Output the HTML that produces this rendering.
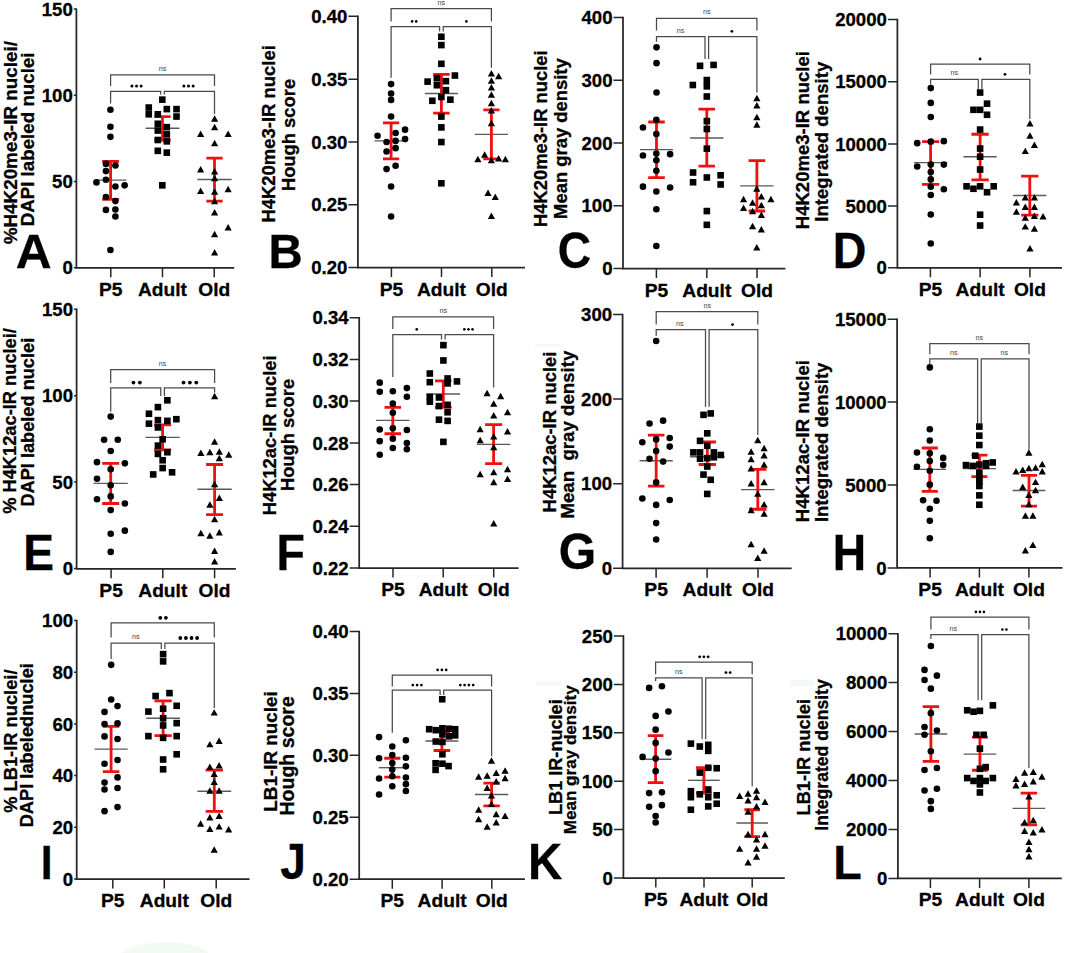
<!DOCTYPE html><html><head><meta charset="utf-8"><style>html,body{margin:0;padding:0;background:#fff;}svg{display:block}.b{font-family:"Liberation Sans",sans-serif;font-weight:bold;fill:#000;stroke:#000;stroke-width:0.3px}.r{font-family:"Liberation Sans",sans-serif;}</style></head><body>
<svg width="1065" height="953" viewBox="0 0 1065 953">
<rect width="1065" height="953" fill="#fff"/>
<g fill="#f3faf3"><rect x="536" y="681" width="26" height="5"/><rect x="790" y="680" width="24" height="6"/><rect x="535" y="344" width="25" height="3"/><ellipse cx="165" cy="957" rx="45" ry="15"/></g>
<path d="M76.4 8.4V267.8H234.2" fill="none" stroke="#262626" stroke-width="1.75"/>
<path d="M73.8 9.1H76.4M73.8 95.3H76.4M73.8 181.5H76.4M73.8 267.7H76.4M110.8 267.8V277.3M162.5 267.8V277.3M214.2 267.8V277.3" fill="none" stroke="#262626" stroke-width="1.5"/>
<text x="72.8" y="15.7" font-size="18.6" class="b" text-anchor="end">150</text>
<text x="72.8" y="101.9" font-size="18.6" class="b" text-anchor="end">100</text>
<text x="72.8" y="188.1" font-size="18.6" class="b" text-anchor="end">50</text>
<text x="72.8" y="274.3" font-size="18.6" class="b" text-anchor="end">0</text>
<text x="110.8" y="295.8" font-size="19.2" class="b" text-anchor="middle">P5</text>
<text x="162.5" y="295.8" font-size="19.2" class="b" text-anchor="middle">Adult</text>
<text x="214.2" y="295.8" font-size="19.2" class="b" text-anchor="middle">Old</text>
<path d="M94.82 180.14H126.38" stroke="#5a5a5a" stroke-width="1.4"/>
<path d="M145.59 128.28H179.41" stroke="#5a5a5a" stroke-width="1.4"/>
<path d="M197.36 179.46H231.64" stroke="#5a5a5a" stroke-width="1.4"/>
<path d="M110.6 161.43V199.31M102.14 161.43H119.06M102.14 199.31H119.06" stroke="#f01010" stroke-width="2.8" fill="none"/>
<path d="M162.5 116.56V140.23M154.38 116.56H170.62M154.38 140.23H170.62" stroke="#f01010" stroke-width="2.8" fill="none"/>
<path d="M214.5 158.04V201.11M206.38 158.04H222.62M206.38 201.11H222.62" stroke="#f01010" stroke-width="2.8" fill="none"/>
<circle cx="110.44" cy="109.79" r="3.3"/>
<circle cx="110.44" cy="126.7" r="3.3"/>
<circle cx="110.44" cy="136.85" r="3.3"/>
<circle cx="105.93" cy="163.91" r="3.3"/>
<circle cx="115.4" cy="165.48" r="3.3"/>
<circle cx="105.93" cy="171.12" r="3.3"/>
<circle cx="96.46" cy="182.4" r="3.3"/>
<circle cx="105.93" cy="179.69" r="3.3"/>
<circle cx="115.4" cy="186.45" r="3.3"/>
<circle cx="124.64" cy="185.33" r="3.3"/>
<circle cx="105.93" cy="197.05" r="3.3"/>
<circle cx="115.4" cy="201.11" r="3.3"/>
<circle cx="105.93" cy="209.9" r="3.3"/>
<circle cx="115.4" cy="209.45" r="3.3"/>
<circle cx="115.4" cy="216.44" r="3.3"/>
<circle cx="110.44" cy="250.04" r="3.3"/>
<rect x="159" y="96.34" width="6.6" height="6.6"/>
<rect x="145.47" y="104.24" width="6.6" height="6.6"/>
<rect x="163.51" y="105.81" width="6.6" height="6.6"/>
<rect x="173.21" y="105.81" width="6.6" height="6.6"/>
<rect x="145.47" y="111" width="6.6" height="6.6"/>
<rect x="154.49" y="111" width="6.6" height="6.6"/>
<rect x="173.21" y="113.26" width="6.6" height="6.6"/>
<rect x="154.49" y="120.47" width="6.6" height="6.6"/>
<rect x="163.51" y="123.85" width="6.6" height="6.6"/>
<rect x="154.49" y="127.24" width="6.6" height="6.6"/>
<rect x="163.51" y="131.07" width="6.6" height="6.6"/>
<rect x="154.49" y="136.71" width="6.6" height="6.6"/>
<rect x="163.51" y="138.06" width="6.6" height="6.6"/>
<rect x="154.49" y="147.53" width="6.6" height="6.6"/>
<rect x="163.51" y="149.33" width="6.6" height="6.6"/>
<rect x="159" y="182.03" width="6.6" height="6.6"/>
<path d="M214.61 115.37L218.21 121.85H211.01Z"/>
<path d="M214.61 123.72L218.21 130.2H211.01Z"/>
<path d="M200.63 130.48L204.23 136.96H197.03Z"/>
<path d="M228.14 130.48L231.74 136.96H224.54Z"/>
<path d="M214.61 139.73L218.21 146.21H211.01Z"/>
<path d="M200.63 166.11L204.23 172.59H197.03Z"/>
<path d="M214.61 167.91L218.21 174.39H211.01Z"/>
<path d="M214.61 174.67L218.21 181.15H211.01Z"/>
<path d="M200.63 187.53L204.23 194.01H197.03Z"/>
<path d="M214.61 188.2L218.21 194.68H211.01Z"/>
<path d="M228.14 185.72L231.74 192.2H224.54Z"/>
<path d="M214.61 197.67L218.21 204.15H211.01Z"/>
<path d="M214.61 208.95L218.21 215.43H211.01Z"/>
<path d="M228.14 224.05L231.74 230.53H224.54Z"/>
<path d="M214.61 230.82L218.21 237.3H211.01Z"/>
<path d="M214.61 249.08L218.21 255.56H211.01Z"/>
<path d="M110.6 86.1V74.8H214.5V86.1M110.6 103.48V91.3H160.7V94.6M164.3 94.6V91.3H214.5V114.08" fill="none" stroke="#4a4a4a" stroke-width="1.25"/>
<text x="162.5" y="70.8" font-size="7.2" class="r" text-anchor="middle" fill="#444">ns</text>
<circle cx="131.95" cy="86.1" r="1.5"/>
<circle cx="136.55" cy="86.1" r="1.5"/>
<circle cx="141.15" cy="86.1" r="1.5"/>
<circle cx="183.9" cy="86.1" r="1.5"/>
<circle cx="188.5" cy="86.1" r="1.5"/>
<circle cx="193.1" cy="86.1" r="1.5"/>
<text transform="translate(16.76,244.35) rotate(-90)" font-size="18.87" class="b">%H4K20me3-IR nuclei/</text>
<text transform="translate(33.67,226.34) rotate(-90)" font-size="18.74" class="b">DAPI labeled nuclei</text>
<text transform="translate(15.66,268.25) scale(1.027,1)" font-size="48.4" class="b">A</text>
<path d="M357.9 15.6V267.5H525" fill="none" stroke="#262626" stroke-width="1.75"/>
<path d="M348.4 16.3H357.9M348.4 79.2H357.9M348.4 142H357.9M348.4 204.8H357.9M348.4 267.5H357.9M391.4 267.5V277M441.5 267.5V277M491.8 267.5V277" fill="none" stroke="#262626" stroke-width="1.5"/>
<text x="347.4" y="22.9" font-size="18.6" class="b" text-anchor="end">0.40</text>
<text x="347.4" y="85.8" font-size="18.6" class="b" text-anchor="end">0.35</text>
<text x="347.4" y="148.6" font-size="18.6" class="b" text-anchor="end">0.30</text>
<text x="347.4" y="211.4" font-size="18.6" class="b" text-anchor="end">0.25</text>
<text x="347.4" y="274.1" font-size="18.6" class="b" text-anchor="end">0.20</text>
<text x="391.4" y="295.5" font-size="19.2" class="b" text-anchor="middle">P5</text>
<text x="441.5" y="295.5" font-size="19.2" class="b" text-anchor="middle">Adult</text>
<text x="491.8" y="295.5" font-size="19.2" class="b" text-anchor="middle">Old</text>
<path d="M374.53 140.92H407.67" stroke="#5a5a5a" stroke-width="1.4"/>
<path d="M424.83 93.57H457.97" stroke="#5a5a5a" stroke-width="1.4"/>
<path d="M474.83 134.39H507.97" stroke="#5a5a5a" stroke-width="1.4"/>
<path d="M391.1 122.89V158.96M382.98 122.89H399.22M382.98 158.96H399.22" stroke="#f01010" stroke-width="2.8" fill="none"/>
<path d="M441.4 74.41V113.19M433.17 74.41H449.63M433.17 113.19H449.63" stroke="#f01010" stroke-width="2.8" fill="none"/>
<path d="M491.4 109.81V158.96M483.28 109.81H499.52M483.28 158.96H499.52" stroke="#f01010" stroke-width="2.8" fill="none"/>
<circle cx="391.08" cy="84.1" r="3.3"/>
<circle cx="391.08" cy="93.57" r="3.3"/>
<circle cx="391.08" cy="99.89" r="3.3"/>
<circle cx="391.08" cy="116.57" r="3.3"/>
<circle cx="405.06" cy="129.65" r="3.3"/>
<circle cx="377.55" cy="135.74" r="3.3"/>
<circle cx="395.59" cy="133.03" r="3.3"/>
<circle cx="405.06" cy="139.12" r="3.3"/>
<circle cx="386.57" cy="142.05" r="3.3"/>
<circle cx="395.59" cy="140.92" r="3.3"/>
<circle cx="386.57" cy="151.52" r="3.3"/>
<circle cx="395.59" cy="148.14" r="3.3"/>
<circle cx="386.57" cy="169.11" r="3.3"/>
<circle cx="395.59" cy="165.73" r="3.3"/>
<circle cx="391.08" cy="186.47" r="3.3"/>
<circle cx="391.08" cy="216.46" r="3.3"/>
<rect x="438.06" y="33.45" width="6.6" height="6.6"/>
<rect x="438.06" y="41.8" width="6.6" height="6.6"/>
<rect x="438.06" y="60.51" width="6.6" height="6.6"/>
<rect x="451.59" y="72.24" width="6.6" height="6.6"/>
<rect x="424.3" y="78.32" width="6.6" height="6.6"/>
<rect x="433.55" y="74.94" width="6.6" height="6.6"/>
<rect x="442.57" y="77.87" width="6.6" height="6.6"/>
<rect x="433.55" y="81.93" width="6.6" height="6.6"/>
<rect x="442.57" y="86.89" width="6.6" height="6.6"/>
<rect x="438.06" y="93.66" width="6.6" height="6.6"/>
<rect x="429.04" y="97.49" width="6.6" height="6.6"/>
<rect x="447.08" y="96.36" width="6.6" height="6.6"/>
<rect x="438.06" y="113.27" width="6.6" height="6.6"/>
<rect x="438.06" y="124.1" width="6.6" height="6.6"/>
<rect x="438.06" y="138.75" width="6.6" height="6.6"/>
<rect x="438.06" y="180.01" width="6.6" height="6.6"/>
<path d="M491.41 70.07L495.01 76.55H487.81Z"/>
<path d="M498.63 72.77L502.23 79.25H495.03Z"/>
<path d="M491.41 77.28L495.01 83.76H487.81Z"/>
<path d="M491.41 84.05L495.01 90.53H487.81Z"/>
<path d="M491.41 91.26L495.01 97.74H487.81Z"/>
<path d="M491.41 99.83L495.01 106.31H487.81Z"/>
<path d="M491.41 107.05L495.01 113.53H487.81Z"/>
<path d="M491.41 119.67L495.01 126.15H487.81Z"/>
<path d="M484.65 151.24L488.25 157.72H481.05Z"/>
<path d="M477.89 155.75L481.49 162.23H474.29Z"/>
<path d="M491.41 156.88L495.01 163.36H487.81Z"/>
<path d="M498.63 155.07L502.23 161.55H495.03Z"/>
<path d="M505.39 155.75L508.99 162.23H501.79Z"/>
<path d="M488.03 189.57L491.63 196.05H484.43Z"/>
<path d="M495.25 193.41L498.85 199.89H491.65Z"/>
<path d="M491.41 212.57L495.01 219.05H487.81Z"/>
<path d="M391.1 21.42V8.57H491.4V21.42M391.1 77.79V26.61H439.6V31.57M443.2 31.57V26.61H491.4V67.64" fill="none" stroke="#4a4a4a" stroke-width="1.25"/>
<text x="441.4" y="4.57" font-size="7.2" class="r" text-anchor="middle" fill="#444">ns</text>
<circle cx="412.1" cy="21.41" r="1.3"/>
<circle cx="416.2" cy="21.41" r="1.3"/>
<circle cx="466.4" cy="21.41" r="1.3"/>
<text transform="translate(275.47,222.52) rotate(-90)" font-size="18.46" class="b">H4K20me3-IR nuclei</text>
<text transform="translate(295.11,191.11) rotate(-90)" font-size="18.38" class="b">Hough score</text>
<text transform="translate(268.62,267.85) scale(0.967,1)" font-size="48.98" class="b">B</text>
<path d="M623 16.7V268.6H785.4" fill="none" stroke="#262626" stroke-width="1.75"/>
<path d="M613.5 17.4H623M613.5 80.2H623M613.5 143H623M613.5 205.8H623M613.5 268.6H623M656.4 268.6V278.1M706.8 268.6V278.1M757 268.6V278.1" fill="none" stroke="#262626" stroke-width="1.5"/>
<text x="612.5" y="24" font-size="18.6" class="b" text-anchor="end">400</text>
<text x="612.5" y="86.8" font-size="18.6" class="b" text-anchor="end">300</text>
<text x="612.5" y="149.6" font-size="18.6" class="b" text-anchor="end">200</text>
<text x="612.5" y="212.4" font-size="18.6" class="b" text-anchor="end">100</text>
<text x="612.5" y="275.2" font-size="18.6" class="b" text-anchor="end">0</text>
<text x="656.4" y="296.6" font-size="19.2" class="b" text-anchor="middle">P5</text>
<text x="706.8" y="296.6" font-size="19.2" class="b" text-anchor="middle">Adult</text>
<text x="757" y="296.6" font-size="19.2" class="b" text-anchor="middle">Old</text>
<path d="M640 149.6H673" stroke="#5a5a5a" stroke-width="1.4"/>
<path d="M690.1 138H723.5" stroke="#5a5a5a" stroke-width="1.4"/>
<path d="M740.2 185.9H773.6" stroke="#5a5a5a" stroke-width="1.4"/>
<path d="M656.5 122V177.7M648.2 122H664.8M648.2 177.7H664.8" stroke="#f01010" stroke-width="2.8" fill="none"/>
<path d="M706.8 109.2V166.1M698.5 109.2H715.1M698.5 166.1H715.1" stroke="#f01010" stroke-width="2.8" fill="none"/>
<path d="M756.9 160.6V211M748.6 160.6H765.2M748.6 211H765.2" stroke="#f01010" stroke-width="2.8" fill="none"/>
<circle cx="656.53" cy="47.35" r="3.3"/>
<circle cx="656.53" cy="63.13" r="3.3"/>
<circle cx="656.53" cy="92.45" r="3.3"/>
<circle cx="656.35" cy="119.83" r="3.3"/>
<circle cx="642.95" cy="127.54" r="3.3"/>
<circle cx="656.35" cy="133.96" r="3.3"/>
<circle cx="642.95" cy="155.44" r="3.3"/>
<circle cx="656.35" cy="153.61" r="3.3"/>
<circle cx="670.12" cy="154.16" r="3.3"/>
<circle cx="656.35" cy="160.22" r="3.3"/>
<circle cx="656.35" cy="170.68" r="3.3"/>
<circle cx="642.95" cy="186.65" r="3.3"/>
<circle cx="670.12" cy="187.57" r="3.3"/>
<circle cx="656.35" cy="191.43" r="3.3"/>
<circle cx="656.35" cy="209.23" r="3.3"/>
<circle cx="656.35" cy="245.95" r="3.3"/>
<rect x="696.75" y="62.54" width="6.6" height="6.6"/>
<rect x="710.27" y="61.64" width="6.6" height="6.6"/>
<rect x="703.51" y="76.75" width="6.6" height="6.6"/>
<rect x="689.53" y="81.71" width="6.6" height="6.6"/>
<rect x="703.51" y="83.06" width="6.6" height="6.6"/>
<rect x="703.51" y="93.21" width="6.6" height="6.6"/>
<rect x="703.54" y="117.81" width="6.6" height="6.6"/>
<rect x="703.54" y="125.71" width="6.6" height="6.6"/>
<rect x="703.54" y="145.35" width="6.6" height="6.6"/>
<rect x="689.77" y="169.22" width="6.6" height="6.6"/>
<rect x="703.54" y="174.17" width="6.6" height="6.6"/>
<rect x="717.31" y="171.97" width="6.6" height="6.6"/>
<rect x="689.77" y="178.95" width="6.6" height="6.6"/>
<rect x="717.31" y="181.15" width="6.6" height="6.6"/>
<rect x="703.54" y="207.77" width="6.6" height="6.6"/>
<rect x="703.54" y="221.54" width="6.6" height="6.6"/>
<path d="M756.87 94.65L760.47 101.13H753.27Z"/>
<path d="M756.87 102.09L760.47 108.57H753.27Z"/>
<path d="M756.87 113.81L760.47 120.29H753.27Z"/>
<path d="M756.87 121.25L760.47 127.73H753.27Z"/>
<path d="M756.77 185.15L760.37 191.63H753.17Z"/>
<path d="M743.55 195.8L747.15 202.28H739.95Z"/>
<path d="M761.36 193.05L764.96 199.53H757.76Z"/>
<path d="M770.91 195.8L774.51 202.28H767.31Z"/>
<path d="M752.55 199.29L756.15 205.77H748.95Z"/>
<path d="M761.36 201.67L764.96 208.15H757.76Z"/>
<path d="M743.55 204.43L747.15 210.91H739.95Z"/>
<path d="M752.55 207.73L756.15 214.21H748.95Z"/>
<path d="M761.36 211.4L764.96 217.88H757.76Z"/>
<path d="M752.55 222.79L756.15 229.27H748.95Z"/>
<path d="M761.36 226.09L764.96 232.57H757.76Z"/>
<path d="M756.77 243.9L760.37 250.38H753.17Z"/>
<path d="M656.5 30.44V18.49H756.9V30.44M656.5 41.71V36.53H705V59.08M708.6 59.08V36.53H756.9V92.45" fill="none" stroke="#4a4a4a" stroke-width="1.25"/>
<text x="706.8" y="14.49" font-size="7.2" class="r" text-anchor="middle" fill="#444">ns</text>
<text x="680.45" y="32.53" font-size="7.2" class="r" text-anchor="middle" fill="#444">ns</text>
<circle cx="731.85" cy="31.33" r="1.4"/>
<text transform="translate(547.3,226.91) rotate(-90)" font-size="18.37" class="b">H4K20me3-IR nuclei</text>
<text transform="translate(566.73,218.91) rotate(-90)" font-size="18.41" class="b">Mean gray density</text>
<text transform="translate(557.71,267.95) scale(0.913,1)" font-size="50.57" class="b">C</text>
<path d="M897.4 18.8V267.8H1062" fill="none" stroke="#262626" stroke-width="1.75"/>
<path d="M887.9 19.5H897.4M887.9 81.8H897.4M887.9 144H897.4M887.9 206H897.4M887.9 267.8H897.4M930.4 267.8V277.3M980.1 267.8V277.3M1029.9 267.8V277.3" fill="none" stroke="#262626" stroke-width="1.5"/>
<text x="886.9" y="26.1" font-size="18.6" class="b" text-anchor="end">20000</text>
<text x="886.9" y="88.4" font-size="18.6" class="b" text-anchor="end">15000</text>
<text x="886.9" y="150.6" font-size="18.6" class="b" text-anchor="end">10000</text>
<text x="886.9" y="212.6" font-size="18.6" class="b" text-anchor="end">5000</text>
<text x="886.9" y="274.4" font-size="18.6" class="b" text-anchor="end">0</text>
<text x="930.4" y="295.8" font-size="19.2" class="b" text-anchor="middle">P5</text>
<text x="980.1" y="295.8" font-size="19.2" class="b" text-anchor="middle">Adult</text>
<text x="1029.9" y="295.8" font-size="19.2" class="b" text-anchor="middle">Old</text>
<path d="M913.95 162.63H947.25" stroke="#5a5a5a" stroke-width="1.4"/>
<path d="M963.45 156.7H996.75" stroke="#5a5a5a" stroke-width="1.4"/>
<path d="M1013.15 195.44H1046.45" stroke="#5a5a5a" stroke-width="1.4"/>
<path d="M930.6 141.65V184.34M921.96 141.65H939.24M921.96 184.34H939.24" stroke="#f01010" stroke-width="2.8" fill="none"/>
<path d="M980.1 134.25V179.9M971.46 134.25H988.74M971.46 179.9H988.74" stroke="#f01010" stroke-width="2.8" fill="none"/>
<path d="M1029.8 176.2V215.18M1021.16 176.2H1038.44M1021.16 215.18H1038.44" stroke="#f01010" stroke-width="2.8" fill="none"/>
<circle cx="930.78" cy="88.11" r="3.3"/>
<circle cx="930.78" cy="102.92" r="3.3"/>
<circle cx="930.78" cy="116.98" r="3.3"/>
<circle cx="917.21" cy="143.13" r="3.3"/>
<circle cx="930.78" cy="141.65" r="3.3"/>
<circle cx="943.85" cy="141.16" r="3.3"/>
<circle cx="917.21" cy="166.57" r="3.3"/>
<circle cx="930.78" cy="164.6" r="3.3"/>
<circle cx="943.85" cy="164.6" r="3.3"/>
<circle cx="930.78" cy="172" r="3.3"/>
<circle cx="930.78" cy="179.4" r="3.3"/>
<circle cx="930.78" cy="186.8" r="3.3"/>
<circle cx="943.85" cy="189.27" r="3.3"/>
<circle cx="930.78" cy="194.95" r="3.3"/>
<circle cx="930.78" cy="214.44" r="3.3"/>
<circle cx="930.78" cy="243.55" r="3.3"/>
<rect x="976.82" y="89.25" width="6.6" height="6.6"/>
<rect x="983.73" y="100.36" width="6.6" height="6.6"/>
<rect x="970.16" y="106.52" width="6.6" height="6.6"/>
<rect x="976.82" y="106.52" width="6.6" height="6.6"/>
<rect x="983.73" y="111.46" width="6.6" height="6.6"/>
<rect x="976.82" y="126.26" width="6.6" height="6.6"/>
<rect x="976.82" y="145.26" width="6.6" height="6.6"/>
<rect x="976.82" y="153.4" width="6.6" height="6.6"/>
<rect x="976.82" y="166.23" width="6.6" height="6.6"/>
<rect x="963.25" y="183.01" width="6.6" height="6.6"/>
<rect x="970.16" y="185.48" width="6.6" height="6.6"/>
<rect x="976.82" y="183.01" width="6.6" height="6.6"/>
<rect x="983.73" y="188.93" width="6.6" height="6.6"/>
<rect x="990.39" y="183.01" width="6.6" height="6.6"/>
<rect x="976.82" y="211.39" width="6.6" height="6.6"/>
<rect x="976.82" y="222.24" width="6.6" height="6.6"/>
<path d="M1029.96 120L1033.56 126.48H1026.36Z"/>
<path d="M1029.96 132.34L1033.56 138.82H1026.36Z"/>
<path d="M1034.4 141.47L1038 147.95H1030.8Z"/>
<path d="M1025.27 147.63L1028.87 154.11H1021.67Z"/>
<path d="M1016.39 198.95L1019.99 205.43H1012.79Z"/>
<path d="M1025.27 194.02L1028.87 200.5H1021.67Z"/>
<path d="M1034.4 194.02L1038 200.5H1030.8Z"/>
<path d="M1025.27 203.4L1028.87 209.88H1021.67Z"/>
<path d="M1034.4 203.4L1038 209.88H1030.8Z"/>
<path d="M1016.39 208.33L1019.99 214.81H1012.79Z"/>
<path d="M1025.27 214.25L1028.87 220.73H1021.67Z"/>
<path d="M1034.4 212.52L1038 219H1030.8Z"/>
<path d="M1043.04 213.02L1046.64 219.5H1039.44Z"/>
<path d="M1025.27 223.13L1028.87 229.61H1021.67Z"/>
<path d="M1034.4 225.35L1038 231.83H1030.8Z"/>
<path d="M1029.96 245.09L1033.56 251.57H1026.36Z"/>
<path d="M930.6 74.54V64.18H1029.8V74.54M930.6 84.41V79.48H978.3V89.35M981.9 89.35V79.48H1029.8V118.95" fill="none" stroke="#4a4a4a" stroke-width="1.25"/>
<circle cx="980.1" cy="58.98" r="1.4"/>
<text x="954.25" y="75.48" font-size="7.2" class="r" text-anchor="middle" fill="#444">ns</text>
<circle cx="1004.95" cy="74.28" r="1.4"/>
<text transform="translate(809.43,229.22) rotate(-90)" font-size="18.55" class="b">H4K20me3-IR nuclei</text>
<text transform="translate(827.86,221.73) rotate(-90)" font-size="18.59" class="b">Integrated density</text>
<text transform="translate(832.78,268.35) scale(0.948,1)" font-size="49.13" class="b">D</text>
<path d="M76.6 308.5V568.8H235.9" fill="none" stroke="#262626" stroke-width="1.75"/>
<path d="M74 309.2H76.6M74 395.7H76.6M74 482.1H76.6M74 568.6H76.6M111.1 568.8V578.3M162.8 568.8V578.3M214.6 568.8V578.3" fill="none" stroke="#262626" stroke-width="1.5"/>
<text x="73" y="315.8" font-size="18.6" class="b" text-anchor="end">150</text>
<text x="73" y="402.3" font-size="18.6" class="b" text-anchor="end">100</text>
<text x="73" y="488.7" font-size="18.6" class="b" text-anchor="end">50</text>
<text x="73" y="575.2" font-size="18.6" class="b" text-anchor="end">0</text>
<text x="111.1" y="596.8" font-size="19.2" class="b" text-anchor="middle">P5</text>
<text x="162.8" y="596.8" font-size="19.2" class="b" text-anchor="middle">Adult</text>
<text x="214.6" y="596.8" font-size="19.2" class="b" text-anchor="middle">Old</text>
<path d="M93.58 483.41H127.82" stroke="#5a5a5a" stroke-width="1.4"/>
<path d="M145.48 437.37H179.72" stroke="#5a5a5a" stroke-width="1.4"/>
<path d="M197.48 489.32H231.72" stroke="#5a5a5a" stroke-width="1.4"/>
<path d="M110.7 463.34V503.48M102.2 463.34H119.2M102.2 503.48H119.2" stroke="#f01010" stroke-width="2.8" fill="none"/>
<path d="M162.6 424.85V449.88M154.1 424.85H171.1M154.1 449.88H171.1" stroke="#f01010" stroke-width="2.8" fill="none"/>
<path d="M214.6 464.52V514.58M206.1 464.52H223.1M206.1 514.58H223.1" stroke="#f01010" stroke-width="2.8" fill="none"/>
<circle cx="110.7" cy="416.59" r="3.3"/>
<circle cx="104.09" cy="439.73" r="3.3"/>
<circle cx="117.78" cy="439.73" r="3.3"/>
<circle cx="110.7" cy="451.06" r="3.3"/>
<circle cx="97" cy="462.16" r="3.3"/>
<circle cx="124.86" cy="463.34" r="3.3"/>
<circle cx="110.7" cy="469.24" r="3.3"/>
<circle cx="97" cy="478.69" r="3.3"/>
<circle cx="110.7" cy="485.3" r="3.3"/>
<circle cx="110.7" cy="496.4" r="3.3"/>
<circle cx="97" cy="499.23" r="3.3"/>
<circle cx="124.86" cy="503.48" r="3.3"/>
<circle cx="110.7" cy="510.09" r="3.3"/>
<circle cx="124.86" cy="530.64" r="3.3"/>
<circle cx="110.7" cy="533.71" r="3.3"/>
<circle cx="110.7" cy="551.89" r="3.3"/>
<rect x="164.07" y="397" width="6.6" height="6.6"/>
<rect x="154.62" y="403.84" width="6.6" height="6.6"/>
<rect x="145.65" y="410.45" width="6.6" height="6.6"/>
<rect x="145.65" y="420.37" width="6.6" height="6.6"/>
<rect x="154.62" y="416.83" width="6.6" height="6.6"/>
<rect x="164.07" y="417.54" width="6.6" height="6.6"/>
<rect x="173.04" y="415.89" width="6.6" height="6.6"/>
<rect x="154.62" y="424.15" width="6.6" height="6.6"/>
<rect x="159.34" y="435.96" width="6.6" height="6.6"/>
<rect x="154.62" y="442.33" width="6.6" height="6.6"/>
<rect x="154.62" y="450.6" width="6.6" height="6.6"/>
<rect x="164.07" y="448.94" width="6.6" height="6.6"/>
<rect x="159.34" y="456.97" width="6.6" height="6.6"/>
<rect x="159.34" y="464.76" width="6.6" height="6.6"/>
<rect x="149.9" y="471.14" width="6.6" height="6.6"/>
<rect x="168.79" y="469.01" width="6.6" height="6.6"/>
<path d="M214.59 392.87L218.19 399.35H210.99Z"/>
<path d="M214.59 438.2L218.19 444.68H210.99Z"/>
<path d="M200.9 449.54L204.5 456.02H197.3Z"/>
<path d="M209.87 448.83L213.47 455.31H206.27Z"/>
<path d="M219.32 448.36L222.92 454.84H215.72Z"/>
<path d="M228.76 451.19L232.36 457.67H225.16Z"/>
<path d="M219.32 454.73L222.92 461.21H215.72Z"/>
<path d="M214.59 480.7L218.19 487.18H210.99Z"/>
<path d="M219.32 494.4L222.92 500.88H215.72Z"/>
<path d="M209.87 501.25L213.47 507.73H206.27Z"/>
<path d="M214.59 515.65L218.19 522.13H210.99Z"/>
<path d="M200.9 529.82L204.5 536.3H197.3Z"/>
<path d="M209.87 532.18L213.47 538.66H206.27Z"/>
<path d="M219.32 529.11L222.92 535.59H215.72Z"/>
<path d="M214.59 547.53L218.19 554.01H210.99Z"/>
<path d="M214.59 557.92L218.19 564.4H210.99Z"/>
<path d="M110.7 383.06V369.6H214.6V383.06M110.7 411.87V387.78H160.8V396.04M164.4 396.04V387.78H214.6V392.5" fill="none" stroke="#4a4a4a" stroke-width="1.25"/>
<text x="162.6" y="365.6" font-size="7.2" class="r" text-anchor="middle" fill="#444">ns</text>
<circle cx="133.45" cy="382.58" r="1.9"/>
<circle cx="139.85" cy="382.58" r="1.9"/>
<circle cx="183.5" cy="382.58" r="1.9"/>
<circle cx="189.9" cy="382.58" r="1.9"/>
<circle cx="196.3" cy="382.58" r="1.9"/>
<text transform="translate(16.14,513.84) rotate(-90)" font-size="18.28" class="b">% H4K12ac-IR nuclei/</text>
<text transform="translate(33.67,506.6) rotate(-90)" font-size="18.19" class="b">DAPI labeled nuclei</text>
<text transform="translate(23.21,569.75) scale(0.924,1)" font-size="49.85" class="b">E</text>
<path d="M359.2 317V568.1H518.6" fill="none" stroke="#262626" stroke-width="1.75"/>
<path d="M349.7 317.7H359.2M349.7 359.4H359.2M349.7 401.1H359.2M349.7 442.9H359.2M349.7 484.6H359.2M349.7 526.3H359.2M349.7 568.1H359.2M393 568.1V577.6M443.2 568.1V577.6M493.7 568.1V577.6" fill="none" stroke="#262626" stroke-width="1.5"/>
<text x="348.7" y="324.3" font-size="18.6" class="b" text-anchor="end">0.34</text>
<text x="348.7" y="366" font-size="18.6" class="b" text-anchor="end">0.32</text>
<text x="348.7" y="407.7" font-size="18.6" class="b" text-anchor="end">0.30</text>
<text x="348.7" y="449.5" font-size="18.6" class="b" text-anchor="end">0.28</text>
<text x="348.7" y="491.2" font-size="18.6" class="b" text-anchor="end">0.26</text>
<text x="348.7" y="532.9" font-size="18.6" class="b" text-anchor="end">0.24</text>
<text x="348.7" y="574.7" font-size="18.6" class="b" text-anchor="end">0.22</text>
<text x="393" y="596.1" font-size="19.2" class="b" text-anchor="middle">P5</text>
<text x="443.2" y="596.1" font-size="19.2" class="b" text-anchor="middle">Adult</text>
<text x="493.7" y="596.1" font-size="19.2" class="b" text-anchor="middle">Old</text>
<path d="M376.02 420.4H409.58" stroke="#5a5a5a" stroke-width="1.4"/>
<path d="M426.52 394H460.08" stroke="#5a5a5a" stroke-width="1.4"/>
<path d="M476.82 444.34H510.38" stroke="#5a5a5a" stroke-width="1.4"/>
<path d="M392.8 407.33V433.73M384.53 407.33H401.07M384.53 433.73H401.07" stroke="#f01010" stroke-width="2.8" fill="none"/>
<path d="M443.3 380.93V407.33M435.03 380.93H451.57M435.03 407.33H451.57" stroke="#f01010" stroke-width="2.8" fill="none"/>
<path d="M493.6 424.6V463.58M485.09 424.6H502.11M485.09 463.58H502.11" stroke="#f01010" stroke-width="2.8" fill="none"/>
<circle cx="379.74" cy="382.65" r="3.3"/>
<circle cx="379.74" cy="391.78" r="3.3"/>
<circle cx="392.82" cy="391.29" r="3.3"/>
<circle cx="406.88" cy="388.08" r="3.3"/>
<circle cx="406.88" cy="396.72" r="3.3"/>
<circle cx="392.82" cy="403.63" r="3.3"/>
<circle cx="392.82" cy="412.76" r="3.3"/>
<circle cx="379.74" cy="429.53" r="3.3"/>
<circle cx="392.82" cy="428.3" r="3.3"/>
<circle cx="406.88" cy="430.03" r="3.3"/>
<circle cx="379.74" cy="441.13" r="3.3"/>
<circle cx="392.82" cy="438.66" r="3.3"/>
<circle cx="406.88" cy="443.1" r="3.3"/>
<circle cx="392.82" cy="448.04" r="3.3"/>
<circle cx="406.88" cy="449.27" r="3.3"/>
<circle cx="379.74" cy="454.7" r="3.3"/>
<rect x="440.1" y="341.85" width="6.6" height="6.6"/>
<rect x="440.1" y="357.15" width="6.6" height="6.6"/>
<rect x="426.52" y="370.23" width="6.6" height="6.6"/>
<rect x="426.52" y="378.86" width="6.6" height="6.6"/>
<rect x="444.29" y="375.16" width="6.6" height="6.6"/>
<rect x="444.29" y="380.1" width="6.6" height="6.6"/>
<rect x="453.67" y="378.12" width="6.6" height="6.6"/>
<rect x="426.52" y="393.67" width="6.6" height="6.6"/>
<rect x="426.52" y="398.35" width="6.6" height="6.6"/>
<rect x="435.65" y="394.16" width="6.6" height="6.6"/>
<rect x="435.65" y="402.79" width="6.6" height="6.6"/>
<rect x="444.29" y="401.56" width="6.6" height="6.6"/>
<rect x="444.29" y="408.96" width="6.6" height="6.6"/>
<rect x="435.65" y="416.36" width="6.6" height="6.6"/>
<rect x="444.29" y="417.6" width="6.6" height="6.6"/>
<rect x="440.1" y="438.57" width="6.6" height="6.6"/>
<path d="M487.07 389.87L490.67 396.35H483.47Z"/>
<path d="M500.64 392.83L504.24 399.31H497.04Z"/>
<path d="M493.73 400.23L497.33 406.71H490.13Z"/>
<path d="M493.73 412.08L497.33 418.56H490.13Z"/>
<path d="M507.55 408.87L511.15 415.35H503.95Z"/>
<path d="M480.16 425.65L483.76 432.13H476.56Z"/>
<path d="M507.55 428.11L511.15 434.59H503.95Z"/>
<path d="M493.73 433.05L497.33 439.53H490.13Z"/>
<path d="M480.16 436.75L483.76 443.23H476.56Z"/>
<path d="M493.73 443.66L497.33 450.14H490.13Z"/>
<path d="M507.55 465.86L511.15 472.34H503.95Z"/>
<path d="M480.16 470.8L483.76 477.28H476.56Z"/>
<path d="M493.73 468.82L497.33 475.3H490.13Z"/>
<path d="M493.73 478.69L497.33 485.17H490.13Z"/>
<path d="M507.55 475.49L511.15 481.97H503.95Z"/>
<path d="M493.73 519.9L497.33 526.38H490.13Z"/>
<path d="M392.8 329.11V316.78H493.6V329.11M392.8 376.98V334.54H441.5V339.48M445.1 339.48V334.54H493.6V387.59" fill="none" stroke="#4a4a4a" stroke-width="1.25"/>
<text x="443.3" y="312.78" font-size="7.2" class="r" text-anchor="middle" fill="#444">ns</text>
<circle cx="416.7" cy="329.34" r="1.3"/>
<circle cx="464.35" cy="329.34" r="1.3"/>
<circle cx="468.45" cy="329.34" r="1.3"/>
<circle cx="472.55" cy="329.34" r="1.3"/>
<text transform="translate(275.57,515.21) rotate(-90)" font-size="18.32" class="b">H4K12ac-IR nuclei</text>
<text transform="translate(293.81,491.11) rotate(-90)" font-size="18.38" class="b">Hough score</text>
<text transform="translate(276.58,569.75) scale(0.932,1)" font-size="49.85" class="b">F</text>
<path d="M622.6 313.8V568.3H791.7" fill="none" stroke="#262626" stroke-width="1.75"/>
<path d="M613.1 314.5H622.6M613.1 399.1H622.6M613.1 483.7H622.6M613.1 568.3H622.6M656.1 568.3V577.8M707.1 568.3V577.8M758 568.3V577.8" fill="none" stroke="#262626" stroke-width="1.5"/>
<text x="612.1" y="321.1" font-size="18.6" class="b" text-anchor="end">300</text>
<text x="612.1" y="405.7" font-size="18.6" class="b" text-anchor="end">200</text>
<text x="612.1" y="490.3" font-size="18.6" class="b" text-anchor="end">100</text>
<text x="612.1" y="574.9" font-size="18.6" class="b" text-anchor="end">0</text>
<text x="656.1" y="596.3" font-size="19.2" class="b" text-anchor="middle">P5</text>
<text x="707.1" y="596.3" font-size="19.2" class="b" text-anchor="middle">Adult</text>
<text x="758" y="596.3" font-size="19.2" class="b" text-anchor="middle">Old</text>
<path d="M639.61 460.75H672.79" stroke="#5a5a5a" stroke-width="1.4"/>
<path d="M689.98 456.71H724.62" stroke="#5a5a5a" stroke-width="1.4"/>
<path d="M741.06 489.61H774.54" stroke="#5a5a5a" stroke-width="1.4"/>
<path d="M656.2 435.06V486.15M647.97 435.06H664.43M647.97 486.15H664.43" stroke="#f01010" stroke-width="2.8" fill="none"/>
<path d="M707.3 441.99V464.5M698.64 441.99H715.96M698.64 464.5H715.96" stroke="#f01010" stroke-width="2.8" fill="none"/>
<path d="M757.8 469.41V509.24M749.14 469.41H766.46M749.14 509.24H766.46" stroke="#f01010" stroke-width="2.8" fill="none"/>
<circle cx="656.17" cy="340.98" r="3.3"/>
<circle cx="649.53" cy="423.52" r="3.3"/>
<circle cx="663.1" cy="420.63" r="3.3"/>
<circle cx="642.32" cy="442.28" r="3.3"/>
<circle cx="656.17" cy="439.39" r="3.3"/>
<circle cx="669.73" cy="437.95" r="3.3"/>
<circle cx="669.73" cy="446.61" r="3.3"/>
<circle cx="656.17" cy="450.94" r="3.3"/>
<circle cx="649.53" cy="458.73" r="3.3"/>
<circle cx="663.1" cy="461.62" r="3.3"/>
<circle cx="656.17" cy="482.4" r="3.3"/>
<circle cx="642.32" cy="498.56" r="3.3"/>
<circle cx="669.73" cy="500" r="3.3"/>
<circle cx="656.17" cy="504.91" r="3.3"/>
<circle cx="656.17" cy="523.09" r="3.3"/>
<circle cx="656.17" cy="539.54" r="3.3"/>
<rect x="700.2" y="411.56" width="6.6" height="6.6"/>
<rect x="707.41" y="410.12" width="6.6" height="6.6"/>
<rect x="703.95" y="430.03" width="6.6" height="6.6"/>
<rect x="696.74" y="437.54" width="6.6" height="6.6"/>
<rect x="703.95" y="442.44" width="6.6" height="6.6"/>
<rect x="690.1" y="449.08" width="6.6" height="6.6"/>
<rect x="696.74" y="449.08" width="6.6" height="6.6"/>
<rect x="710.59" y="449.08" width="6.6" height="6.6"/>
<rect x="717.52" y="451.68" width="6.6" height="6.6"/>
<rect x="696.74" y="455.43" width="6.6" height="6.6"/>
<rect x="703.95" y="454.85" width="6.6" height="6.6"/>
<rect x="710.59" y="453.99" width="6.6" height="6.6"/>
<rect x="703.95" y="463.22" width="6.6" height="6.6"/>
<rect x="700.2" y="471.3" width="6.6" height="6.6"/>
<rect x="707.41" y="476.5" width="6.6" height="6.6"/>
<rect x="703.95" y="490.64" width="6.6" height="6.6"/>
<path d="M757.76 436.66L761.36 443.14H754.16Z"/>
<path d="M751.12 448.2L754.72 454.68H747.52Z"/>
<path d="M764.11 444.74L767.71 451.22H760.51Z"/>
<path d="M751.12 455.71L754.72 462.19H747.52Z"/>
<path d="M764.11 451.96L767.71 458.44H760.51Z"/>
<path d="M751.12 464.94L754.72 471.42H747.52Z"/>
<path d="M764.11 461.19L767.71 467.67H760.51Z"/>
<path d="M751.12 479.95L754.72 486.43H747.52Z"/>
<path d="M764.11 478.8L767.71 485.28H760.51Z"/>
<path d="M757.76 490.34L761.36 496.82H754.16Z"/>
<path d="M751.12 506.79L754.72 513.27H747.52Z"/>
<path d="M764.11 501.02L767.71 507.5H760.51Z"/>
<path d="M764.11 510.25L767.71 516.73H760.51Z"/>
<path d="M751.12 540.85L754.72 547.33H747.52Z"/>
<path d="M764.11 547.19L767.71 553.67H760.51Z"/>
<path d="M757.76 554.41L761.36 560.89H754.16Z"/>
<path d="M656.2 324.53V311.54H757.8V324.53M656.2 336.08V329.73H705.5V406.78M709.1 406.78V329.73H757.8V435.06" fill="none" stroke="#4a4a4a" stroke-width="1.25"/>
<text x="707.3" y="307.54" font-size="7.2" class="r" text-anchor="middle" fill="#444">ns</text>
<text x="679.75" y="325.73" font-size="7.2" class="r" text-anchor="middle" fill="#444">ns</text>
<circle cx="732.55" cy="324.53" r="1.4"/>
<text transform="translate(556.36,512.42) rotate(-90)" font-size="18.45" class="b">H4K12ac-IR nuclei</text>
<text transform="translate(574,518.53) rotate(-90)" font-size="18.65" class="b">Mean  gray density</text>
<text transform="translate(558.63,568.85) scale(0.964,1)" font-size="49.86" class="b">G</text>
<path d="M897.1 318.5V567.9H1062.5" fill="none" stroke="#262626" stroke-width="1.75"/>
<path d="M887.6 319.2H897.1M887.6 402.1H897.1M887.6 485H897.1M887.6 567.9H897.1M930.1 567.9V577.4M979.4 567.9V577.4M1028.9 567.9V577.4" fill="none" stroke="#262626" stroke-width="1.5"/>
<text x="886.6" y="325.8" font-size="18.6" class="b" text-anchor="end">15000</text>
<text x="886.6" y="408.7" font-size="18.6" class="b" text-anchor="end">10000</text>
<text x="886.6" y="491.6" font-size="18.6" class="b" text-anchor="end">5000</text>
<text x="886.6" y="574.5" font-size="18.6" class="b" text-anchor="end">0</text>
<text x="930.1" y="595.9" font-size="19.2" class="b" text-anchor="middle">P5</text>
<text x="979.4" y="595.9" font-size="19.2" class="b" text-anchor="middle">Adult</text>
<text x="1028.9" y="595.9" font-size="19.2" class="b" text-anchor="middle">Old</text>
<path d="M913.47 469.4H946.13" stroke="#5a5a5a" stroke-width="1.4"/>
<path d="M962.93 468.59H995.87" stroke="#5a5a5a" stroke-width="1.4"/>
<path d="M1012.67 490.55H1045.33" stroke="#5a5a5a" stroke-width="1.4"/>
<path d="M929.8 447.98V491.35M921.77 447.98H937.83M921.77 491.35H937.83" stroke="#f01010" stroke-width="2.8" fill="none"/>
<path d="M979.4 455.21V476.63M971.37 455.21H987.43M971.37 476.63H987.43" stroke="#f01010" stroke-width="2.8" fill="none"/>
<path d="M1029 475.29V506.08M1020.97 475.29H1037.03M1020.97 506.08H1037.03" stroke="#f01010" stroke-width="2.8" fill="none"/>
<circle cx="929.81" cy="367.39" r="3.3"/>
<circle cx="929.81" cy="429.24" r="3.3"/>
<circle cx="929.81" cy="440.48" r="3.3"/>
<circle cx="916.95" cy="452.53" r="3.3"/>
<circle cx="929.81" cy="453.33" r="3.3"/>
<circle cx="943.19" cy="457.88" r="3.3"/>
<circle cx="929.81" cy="461.1" r="3.3"/>
<circle cx="916.95" cy="466.72" r="3.3"/>
<circle cx="943.19" cy="465.11" r="3.3"/>
<circle cx="929.81" cy="470.74" r="3.3"/>
<circle cx="929.81" cy="484.66" r="3.3"/>
<circle cx="923.11" cy="500.19" r="3.3"/>
<circle cx="936.5" cy="500.72" r="3.3"/>
<circle cx="929.81" cy="508.76" r="3.3"/>
<circle cx="929.81" cy="520.8" r="3.3"/>
<circle cx="929.81" cy="538.21" r="3.3"/>
<rect x="976.04" y="423.26" width="6.6" height="6.6"/>
<rect x="976.04" y="432.36" width="6.6" height="6.6"/>
<rect x="976.04" y="441.73" width="6.6" height="6.6"/>
<rect x="972.02" y="452.44" width="6.6" height="6.6"/>
<rect x="962.65" y="461.81" width="6.6" height="6.6"/>
<rect x="969.34" y="462.62" width="6.6" height="6.6"/>
<rect x="976.04" y="461.28" width="6.6" height="6.6"/>
<rect x="982.73" y="462.62" width="6.6" height="6.6"/>
<rect x="982.73" y="459.94" width="6.6" height="6.6"/>
<rect x="989.42" y="459.14" width="6.6" height="6.6"/>
<rect x="976.04" y="469.31" width="6.6" height="6.6"/>
<rect x="976.04" y="474.67" width="6.6" height="6.6"/>
<rect x="976.04" y="478.68" width="6.6" height="6.6"/>
<rect x="976.04" y="482.7" width="6.6" height="6.6"/>
<rect x="976.04" y="492.07" width="6.6" height="6.6"/>
<rect x="976.04" y="501.44" width="6.6" height="6.6"/>
<path d="M1028.87 449.18L1032.47 455.66H1025.27Z"/>
<path d="M1016.02 467.92L1019.62 474.4H1012.42Z"/>
<path d="M1022.71 466.58L1026.31 473.06H1019.11Z"/>
<path d="M1028.87 464.71L1032.47 471.19H1025.27Z"/>
<path d="M1035.56 464.17L1039.16 470.65H1031.96Z"/>
<path d="M1042.26 460.69L1045.86 467.17H1038.66Z"/>
<path d="M1042.26 467.92L1045.86 474.4H1038.66Z"/>
<path d="M1022.71 483.45L1026.31 489.93H1019.11Z"/>
<path d="M1035.56 478.63L1039.16 485.11H1031.96Z"/>
<path d="M1035.56 486.66L1039.16 493.14H1031.96Z"/>
<path d="M1028.87 491.48L1032.47 497.96H1025.27Z"/>
<path d="M1028.87 500.85L1032.47 507.33H1025.27Z"/>
<path d="M1025.39 512.36L1028.99 518.84H1021.79Z"/>
<path d="M1032.88 512.36L1036.48 518.84H1029.28Z"/>
<path d="M1025.39 546.9L1028.99 553.38H1021.79Z"/>
<path d="M1032.88 541.55L1036.48 548.03H1029.28Z"/>
<path d="M929.8 354.27V343.56H1029V354.27M929.8 364.18V358.82H977.6V424.42M981.2 424.42V358.82H1029V449.85" fill="none" stroke="#4a4a4a" stroke-width="1.25"/>
<text x="979.4" y="339.56" font-size="7.2" class="r" text-anchor="middle" fill="#444">ns</text>
<text x="953.9" y="354.82" font-size="7.2" class="r" text-anchor="middle" fill="#444">ns</text>
<text x="1004.2" y="354.82" font-size="7.2" class="r" text-anchor="middle" fill="#444">ns</text>
<text transform="translate(809.25,522.13) rotate(-90)" font-size="18.58" class="b">H4K12ac-IR nuclei</text>
<text transform="translate(827.71,522.12) rotate(-90)" font-size="18.52" class="b">Integrated density</text>
<text transform="translate(832.8,569.75) scale(0.928,1)" font-size="49.85" class="b">H</text>
<path d="M76.7 619.8V879H249.5" fill="none" stroke="#262626" stroke-width="1.75"/>
<path d="M74.1 620.5H76.7M74.1 672.2H76.7M74.1 723.9H76.7M74.1 775.6H76.7M74.1 827.3H76.7M74.1 879H76.7M112.8 879V888.5M164.3 879V888.5M216.2 879V888.5" fill="none" stroke="#262626" stroke-width="1.5"/>
<text x="73.1" y="627.1" font-size="18.6" class="b" text-anchor="end">100</text>
<text x="73.1" y="678.8" font-size="18.6" class="b" text-anchor="end">80</text>
<text x="73.1" y="730.5" font-size="18.6" class="b" text-anchor="end">60</text>
<text x="73.1" y="782.2" font-size="18.6" class="b" text-anchor="end">40</text>
<text x="73.1" y="833.9" font-size="18.6" class="b" text-anchor="end">20</text>
<text x="73.1" y="885.6" font-size="18.6" class="b" text-anchor="end">0</text>
<text x="112.8" y="907" font-size="19.2" class="b" text-anchor="middle">P5</text>
<text x="164.3" y="907" font-size="19.2" class="b" text-anchor="middle">Adult</text>
<text x="216.2" y="907" font-size="19.2" class="b" text-anchor="middle">Old</text>
<path d="M94.51 749.11H127.69" stroke="#5a5a5a" stroke-width="1.4"/>
<path d="M146.22 718.23H179.98" stroke="#5a5a5a" stroke-width="1.4"/>
<path d="M197.42 791.24H231.18" stroke="#5a5a5a" stroke-width="1.4"/>
<path d="M111.1 726.31V771.62M102.87 726.31H119.33M102.87 771.62H119.33" stroke="#f01010" stroke-width="2.8" fill="none"/>
<path d="M163.1 700.91V735.54M154.44 700.91H171.76M154.44 735.54H171.76" stroke="#f01010" stroke-width="2.8" fill="none"/>
<path d="M214.3 770.17V811.44M205.64 770.17H222.96M205.64 811.44H222.96" stroke="#f01010" stroke-width="2.8" fill="none"/>
<circle cx="111.17" cy="664.83" r="3.3"/>
<circle cx="111.17" cy="699.47" r="3.3"/>
<circle cx="117.52" cy="706.1" r="3.3"/>
<circle cx="104.53" cy="711.88" r="3.3"/>
<circle cx="104.53" cy="724" r="3.3"/>
<circle cx="117.52" cy="723.42" r="3.3"/>
<circle cx="104.53" cy="736.41" r="3.3"/>
<circle cx="117.52" cy="739" r="3.3"/>
<circle cx="104.53" cy="763.82" r="3.3"/>
<circle cx="117.52" cy="760.07" r="3.3"/>
<circle cx="117.52" cy="777.39" r="3.3"/>
<circle cx="104.53" cy="782.58" r="3.3"/>
<circle cx="104.53" cy="789.51" r="3.3"/>
<circle cx="117.52" cy="788.07" r="3.3"/>
<circle cx="104.53" cy="811.15" r="3.3"/>
<circle cx="117.52" cy="807.11" r="3.3"/>
<rect x="159.82" y="650.86" width="6.6" height="6.6"/>
<rect x="159.82" y="658.07" width="6.6" height="6.6"/>
<rect x="152.31" y="692.7" width="6.6" height="6.6"/>
<rect x="166.17" y="689.82" width="6.6" height="6.6"/>
<rect x="145.1" y="708.29" width="6.6" height="6.6"/>
<rect x="159.82" y="705.4" width="6.6" height="6.6"/>
<rect x="173.38" y="702.52" width="6.6" height="6.6"/>
<rect x="159.82" y="714.93" width="6.6" height="6.6"/>
<rect x="159.82" y="722.14" width="6.6" height="6.6"/>
<rect x="173.38" y="719.83" width="6.6" height="6.6"/>
<rect x="145.1" y="732.82" width="6.6" height="6.6"/>
<rect x="159.82" y="734.55" width="6.6" height="6.6"/>
<rect x="173.38" y="732.82" width="6.6" height="6.6"/>
<rect x="159.82" y="756.19" width="6.6" height="6.6"/>
<rect x="173.38" y="751" width="6.6" height="6.6"/>
<rect x="159.82" y="766.01" width="6.6" height="6.6"/>
<path d="M214.2 709.14L217.8 715.62H210.6Z"/>
<path d="M209.87 740.89L213.47 747.37H206.27Z"/>
<path d="M219.11 737.43L222.71 743.91H215.51Z"/>
<path d="M209.87 763.4L213.47 769.88H206.27Z"/>
<path d="M219.11 761.96L222.71 768.44H215.51Z"/>
<path d="M214.2 770.61L217.8 777.09H210.6Z"/>
<path d="M214.2 778.41L217.8 784.89H210.6Z"/>
<path d="M209.87 787.35L213.47 793.83H206.27Z"/>
<path d="M219.11 787.35L222.71 793.83H215.51Z"/>
<path d="M209.87 813.9L213.47 820.38H206.27Z"/>
<path d="M219.11 812.46L222.71 818.94H215.51Z"/>
<path d="M200.63 820.25L204.23 826.73H197.03Z"/>
<path d="M209.87 825.45L213.47 831.93H206.27Z"/>
<path d="M219.11 823.14L222.71 829.62H215.51Z"/>
<path d="M228.63 826.03L232.23 832.51H225.03Z"/>
<path d="M214.2 846.23L217.8 852.71H210.6Z"/>
<path d="M111.1 637.42V622.99H214.3V637.42M111.1 659.06V643.19H161.3V648.96M164.9 648.96V643.19H214.3V708.12" fill="none" stroke="#4a4a4a" stroke-width="1.25"/>
<circle cx="160.3" cy="617.79" r="1.9"/>
<circle cx="165.9" cy="617.79" r="1.9"/>
<text x="135.7" y="639.19" font-size="7.2" class="r" text-anchor="middle" fill="#444">ns</text>
<circle cx="180.3" cy="637.99" r="1.9"/>
<circle cx="185.9" cy="637.99" r="1.9"/>
<circle cx="191.5" cy="637.99" r="1.9"/>
<circle cx="197.1" cy="637.99" r="1.9"/>
<text transform="translate(17.05,812.84) rotate(-90)" font-size="18.31" class="b">% LB1-IR nuclei/</text>
<text transform="translate(33.2,827.3) rotate(-90)" font-size="18.24" class="b">DAPI labelednuclei</text>
<text transform="translate(40.85,879.15) scale(0.865,1)" font-size="48.98" class="b">I</text>
<path d="M359.2 630.8V879.2H524.9" fill="none" stroke="#262626" stroke-width="1.75"/>
<path d="M349.7 631.5H359.2M349.7 693.4H359.2M349.7 755.3H359.2M349.7 817.2H359.2M349.7 879.2H359.2M392.3 879.2V888.7M442.1 879.2V888.7M491.8 879.2V888.7" fill="none" stroke="#262626" stroke-width="1.5"/>
<text x="348.7" y="638.1" font-size="18.6" class="b" text-anchor="end">0.40</text>
<text x="348.7" y="700" font-size="18.6" class="b" text-anchor="end">0.35</text>
<text x="348.7" y="761.9" font-size="18.6" class="b" text-anchor="end">0.30</text>
<text x="348.7" y="823.8" font-size="18.6" class="b" text-anchor="end">0.25</text>
<text x="348.7" y="885.8" font-size="18.6" class="b" text-anchor="end">0.20</text>
<text x="392.3" y="907.2" font-size="19.2" class="b" text-anchor="middle">P5</text>
<text x="442.1" y="907.2" font-size="19.2" class="b" text-anchor="middle">Adult</text>
<text x="491.8" y="907.2" font-size="19.2" class="b" text-anchor="middle">Old</text>
<path d="M378.79 767.69H405.81" stroke="#5a5a5a" stroke-width="1.4"/>
<path d="M425.4 741H458.4" stroke="#5a5a5a" stroke-width="1.4"/>
<path d="M474.97 794.52H508.23" stroke="#5a5a5a" stroke-width="1.4"/>
<path d="M392.3 758.24V777.14M384.27 758.24H400.33M384.27 777.14H400.33" stroke="#f01010" stroke-width="2.8" fill="none"/>
<path d="M441.9 731.6V750.5M433.6 731.6H450.2M433.6 750.5H450.2" stroke="#f01010" stroke-width="2.8" fill="none"/>
<path d="M491.6 783.18V805.85M483.38 783.18H499.82M483.38 805.85H499.82" stroke="#f01010" stroke-width="2.8" fill="none"/>
<circle cx="379.07" cy="737.08" r="3.3"/>
<circle cx="405.9" cy="740.29" r="3.3"/>
<circle cx="392.29" cy="746.53" r="3.3"/>
<circle cx="392.29" cy="755.03" r="3.3"/>
<circle cx="379.07" cy="758.24" r="3.3"/>
<circle cx="405.9" cy="757.68" r="3.3"/>
<circle cx="392.29" cy="762.97" r="3.3"/>
<circle cx="392.29" cy="769.58" r="3.3"/>
<circle cx="405.9" cy="766.37" r="3.3"/>
<circle cx="379.07" cy="778.46" r="3.3"/>
<circle cx="392.29" cy="776.19" r="3.3"/>
<circle cx="405.9" cy="777.51" r="3.3"/>
<circle cx="392.29" cy="786.2" r="3.3"/>
<circle cx="405.9" cy="784.13" r="3.3"/>
<circle cx="405.9" cy="790.93" r="3.3"/>
<circle cx="379.07" cy="794.52" r="3.3"/>
<rect x="438.92" y="695.96" width="6.6" height="6.6"/>
<rect x="425.88" y="725.92" width="6.6" height="6.6"/>
<rect x="432.49" y="726.87" width="6.6" height="6.6"/>
<rect x="439.11" y="724.98" width="6.6" height="6.6"/>
<rect x="445.73" y="725.45" width="6.6" height="6.6"/>
<rect x="451.87" y="725.92" width="6.6" height="6.6"/>
<rect x="451.87" y="732.07" width="6.6" height="6.6"/>
<rect x="445.73" y="733.01" width="6.6" height="6.6"/>
<rect x="439.11" y="731.12" width="6.6" height="6.6"/>
<rect x="432.49" y="738.21" width="6.6" height="6.6"/>
<rect x="439.11" y="738.68" width="6.6" height="6.6"/>
<rect x="439.11" y="750.97" width="6.6" height="6.6"/>
<rect x="432.3" y="759.95" width="6.6" height="6.6"/>
<rect x="432.3" y="766.57" width="6.6" height="6.6"/>
<rect x="439.11" y="760.42" width="6.6" height="6.6"/>
<rect x="445.25" y="762.79" width="6.6" height="6.6"/>
<path d="M491.48 757.19L495.08 763.67H487.88Z"/>
<path d="M478.63 773.25L482.23 779.73H475.03Z"/>
<path d="M487.14 772.3L490.74 778.78H483.54Z"/>
<path d="M496.2 769.47L499.8 775.95H492.6Z"/>
<path d="M505.08 767.2L508.68 773.68H501.48Z"/>
<path d="M505.08 774.76L508.68 781.24H501.48Z"/>
<path d="M496.2 777.97L499.8 784.45H492.6Z"/>
<path d="M487.14 784.58L490.74 791.06H483.54Z"/>
<path d="M491.48 792.14L495.08 798.62H487.88Z"/>
<path d="M491.48 800.64L495.08 807.12H487.88Z"/>
<path d="M478.63 806.31L482.23 812.79H475.03Z"/>
<path d="M496.2 810.66L499.8 817.14H492.6Z"/>
<path d="M505.08 812.55L508.68 819.03H501.48Z"/>
<path d="M478.63 815.76L482.23 822.24H475.03Z"/>
<path d="M496.2 818.97L499.8 825.45H492.6Z"/>
<path d="M487.14 823.31L490.74 829.79H483.54Z"/>
<path d="M392.3 686.45V675.11H491.6V686.45M392.3 732.74V690.23H440.1V694.95M443.7 694.95V690.23H491.6V756.35" fill="none" stroke="#4a4a4a" stroke-width="1.25"/>
<circle cx="437.6" cy="669.91" r="1.35"/>
<circle cx="441.9" cy="669.91" r="1.35"/>
<circle cx="446.2" cy="669.91" r="1.35"/>
<circle cx="412.8" cy="685.03" r="1.35"/>
<circle cx="417.1" cy="685.03" r="1.35"/>
<circle cx="421.4" cy="685.03" r="1.35"/>
<circle cx="460.3" cy="685.03" r="1.35"/>
<circle cx="464.6" cy="685.03" r="1.35"/>
<circle cx="468.9" cy="685.03" r="1.35"/>
<circle cx="473.2" cy="685.03" r="1.35"/>
<text transform="translate(276.64,811.64) rotate(-90)" font-size="18.84" class="b">LB1-IR nuclei</text>
<text transform="translate(294.34,815.49) rotate(-90)" font-size="19.53" class="b">Hough score</text>
<text transform="translate(280.21,879.35) scale(0.926,1)" font-size="49.85" class="b">J</text>
<path d="M623.4 635.3V878H784.8" fill="none" stroke="#262626" stroke-width="1.75"/>
<path d="M613.9 636H623.4M613.9 684.4H623.4M613.9 732.8H623.4M613.9 781.2H623.4M613.9 829.6H623.4M613.9 878H623.4M655.8 878V887.5M704 878V887.5M752.2 878V887.5" fill="none" stroke="#262626" stroke-width="1.5"/>
<text x="612.9" y="642.6" font-size="18.6" class="b" text-anchor="end">250</text>
<text x="612.9" y="691" font-size="18.6" class="b" text-anchor="end">200</text>
<text x="612.9" y="739.4" font-size="18.6" class="b" text-anchor="end">150</text>
<text x="612.9" y="787.8" font-size="18.6" class="b" text-anchor="end">100</text>
<text x="612.9" y="836.2" font-size="18.6" class="b" text-anchor="end">50</text>
<text x="612.9" y="884.6" font-size="18.6" class="b" text-anchor="end">0</text>
<text x="655.8" y="906" font-size="19.2" class="b" text-anchor="middle">P5</text>
<text x="704" y="906" font-size="19.2" class="b" text-anchor="middle">Adult</text>
<text x="752.2" y="906" font-size="19.2" class="b" text-anchor="middle">Old</text>
<path d="M639.79 759.31H671.41" stroke="#5a5a5a" stroke-width="1.4"/>
<path d="M688.09 780.31H719.71" stroke="#5a5a5a" stroke-width="1.4"/>
<path d="M736.39 823.02H768.01" stroke="#5a5a5a" stroke-width="1.4"/>
<path d="M655.6 735.67V782.72M647.76 735.67H663.44M647.76 782.72H663.44" stroke="#f01010" stroke-width="2.8" fill="none"/>
<path d="M703.9 767.76V793.1M696.06 767.76H711.74M696.06 793.1H711.74" stroke="#f01010" stroke-width="2.8" fill="none"/>
<path d="M752.2 809.75V836.53M744.36 809.75H760.04M744.36 836.53H760.04" stroke="#f01010" stroke-width="2.8" fill="none"/>
<circle cx="649.13" cy="687.89" r="3.3"/>
<circle cx="661.92" cy="686.2" r="3.3"/>
<circle cx="668.44" cy="711.53" r="3.3"/>
<circle cx="655.65" cy="715.88" r="3.3"/>
<circle cx="655.65" cy="729.63" r="3.3"/>
<circle cx="655.65" cy="742.91" r="3.3"/>
<circle cx="642.62" cy="756.9" r="3.3"/>
<circle cx="655.65" cy="758.59" r="3.3"/>
<circle cx="668.44" cy="752.56" r="3.3"/>
<circle cx="655.65" cy="771.14" r="3.3"/>
<circle cx="649.13" cy="793.1" r="3.3"/>
<circle cx="661.92" cy="792.37" r="3.3"/>
<circle cx="649.13" cy="806.85" r="3.3"/>
<circle cx="661.92" cy="805.16" r="3.3"/>
<circle cx="655.65" cy="816.02" r="3.3"/>
<circle cx="655.65" cy="822.54" r="3.3"/>
<rect x="687.58" y="740.33" width="6.6" height="6.6"/>
<rect x="696.51" y="743.23" width="6.6" height="6.6"/>
<rect x="704.95" y="741.54" width="6.6" height="6.6"/>
<rect x="704.95" y="747.57" width="6.6" height="6.6"/>
<rect x="704.95" y="764.46" width="6.6" height="6.6"/>
<rect x="713.4" y="764.94" width="6.6" height="6.6"/>
<rect x="696.51" y="769.29" width="6.6" height="6.6"/>
<rect x="687.58" y="787.87" width="6.6" height="6.6"/>
<rect x="687.58" y="793.9" width="6.6" height="6.6"/>
<rect x="696.51" y="791.01" width="6.6" height="6.6"/>
<rect x="704.95" y="786.18" width="6.6" height="6.6"/>
<rect x="704.95" y="793.9" width="6.6" height="6.6"/>
<rect x="713.4" y="791.97" width="6.6" height="6.6"/>
<rect x="713.4" y="800.42" width="6.6" height="6.6"/>
<rect x="704.95" y="803.07" width="6.6" height="6.6"/>
<rect x="687.58" y="806.45" width="6.6" height="6.6"/>
<path d="M739.62 792.59L743.22 799.07H736.02Z"/>
<path d="M748.07 790.18L751.67 796.66H744.47Z"/>
<path d="M756.52 787.28L760.12 793.76H752.92Z"/>
<path d="M748.07 796.93L751.67 803.41H744.47Z"/>
<path d="M756.52 793.8L760.12 800.28H752.92Z"/>
<path d="M764.96 798.62L768.56 805.1H761.36Z"/>
<path d="M756.52 802.97L760.12 809.45H752.92Z"/>
<path d="M748.07 808.27L751.67 814.75H744.47Z"/>
<path d="M748.07 830.72L751.67 837.2H744.47Z"/>
<path d="M764.96 830.72L768.56 837.2H761.36Z"/>
<path d="M756.52 836.03L760.12 842.51H752.92Z"/>
<path d="M739.62 845.2L743.22 851.68H736.02Z"/>
<path d="M756.52 845.2L760.12 851.68H752.92Z"/>
<path d="M764.96 842.3L768.56 848.78H761.36Z"/>
<path d="M756.52 853.16L760.12 859.64H752.92Z"/>
<path d="M748.07 858.95L751.67 865.43H744.47Z"/>
<path d="M655.6 674.13V662.07H752.2V674.13M655.6 681.37V677.75H702.1V739.29M705.7 739.29V677.75H752.2V786.34" fill="none" stroke="#4a4a4a" stroke-width="1.25"/>
<circle cx="699.7" cy="656.87" r="1.4"/>
<circle cx="703.9" cy="656.87" r="1.4"/>
<circle cx="708.1" cy="656.87" r="1.4"/>
<text x="678.75" y="673.75" font-size="7.2" class="r" text-anchor="middle" fill="#444">ns</text>
<circle cx="725.95" cy="672.55" r="1.4"/>
<circle cx="730.15" cy="672.55" r="1.4"/>
<text transform="translate(562.32,815) rotate(-90)" font-size="18.12" class="b">LB1 IR-nuclei</text>
<text transform="translate(575.86,834.23) rotate(-90)" font-size="17.07" class="b">Mean gray density</text>
<text transform="translate(528.01,879.15) scale(0.959,1)" font-size="49.56" class="b">K</text>
<path d="M897.9 633V878.4H1061.8" fill="none" stroke="#262626" stroke-width="1.75"/>
<path d="M888.4 633.7H897.9M888.4 682.6H897.9M888.4 731.6H897.9M888.4 780.5H897.9M888.4 829.5H897.9M888.4 878.4H897.9M930.4 878.4V887.9M979.6 878.4V887.9M1028.9 878.4V887.9" fill="none" stroke="#262626" stroke-width="1.5"/>
<text x="887.4" y="640.3" font-size="18.6" class="b" text-anchor="end">10000</text>
<text x="887.4" y="689.2" font-size="18.6" class="b" text-anchor="end">8000</text>
<text x="887.4" y="738.2" font-size="18.6" class="b" text-anchor="end">6000</text>
<text x="887.4" y="787.1" font-size="18.6" class="b" text-anchor="end">4000</text>
<text x="887.4" y="836.1" font-size="18.6" class="b" text-anchor="end">2000</text>
<text x="887.4" y="885" font-size="18.6" class="b" text-anchor="end">0</text>
<text x="930.4" y="906.4" font-size="19.2" class="b" text-anchor="middle">P5</text>
<text x="979.6" y="906.4" font-size="19.2" class="b" text-anchor="middle">Adult</text>
<text x="1028.9" y="906.4" font-size="19.2" class="b" text-anchor="middle">Old</text>
<path d="M914.6 733.93H947.2" stroke="#5a5a5a" stroke-width="1.4"/>
<path d="M963.6 754.12H996.2" stroke="#5a5a5a" stroke-width="1.4"/>
<path d="M1012.6 808.35H1045.2" stroke="#5a5a5a" stroke-width="1.4"/>
<path d="M930.9 706.53V761.33M922.68 706.53H939.12M922.68 761.33H939.12" stroke="#f01010" stroke-width="2.8" fill="none"/>
<path d="M979.9 737.1V770.27M971.97 737.1H987.83M971.97 770.27H987.83" stroke="#f01010" stroke-width="2.8" fill="none"/>
<path d="M1028.9 793.06V824.79M1020.68 793.06H1037.12M1020.68 824.79H1037.12" stroke="#f01010" stroke-width="2.8" fill="none"/>
<circle cx="930.86" cy="645.96" r="3.3"/>
<circle cx="924.52" cy="669.9" r="3.3"/>
<circle cx="924.52" cy="679.99" r="3.3"/>
<circle cx="936.92" cy="675.67" r="3.3"/>
<circle cx="930.86" cy="688.65" r="3.3"/>
<circle cx="930.86" cy="713.16" r="3.3"/>
<circle cx="924.52" cy="727.01" r="3.3"/>
<circle cx="936.92" cy="730.47" r="3.3"/>
<circle cx="924.52" cy="734.8" r="3.3"/>
<circle cx="930.86" cy="751.24" r="3.3"/>
<circle cx="924.52" cy="769.98" r="3.3"/>
<circle cx="936.92" cy="767.97" r="3.3"/>
<circle cx="924.52" cy="790.46" r="3.3"/>
<circle cx="936.92" cy="788.73" r="3.3"/>
<circle cx="930.86" cy="801.13" r="3.3"/>
<circle cx="930.86" cy="808.92" r="3.3"/>
<rect x="963.91" y="706.98" width="6.6" height="6.6"/>
<rect x="970.25" y="708.42" width="6.6" height="6.6"/>
<rect x="976.6" y="707.56" width="6.6" height="6.6"/>
<rect x="989.58" y="702.07" width="6.6" height="6.6"/>
<rect x="973.13" y="731.5" width="6.6" height="6.6"/>
<rect x="980.35" y="731.5" width="6.6" height="6.6"/>
<rect x="976.6" y="745.34" width="6.6" height="6.6"/>
<rect x="976.6" y="765.53" width="6.6" height="6.6"/>
<rect x="982.36" y="763.8" width="6.6" height="6.6"/>
<rect x="963.91" y="774.76" width="6.6" height="6.6"/>
<rect x="970.25" y="777.64" width="6.6" height="6.6"/>
<rect x="976.6" y="774.76" width="6.6" height="6.6"/>
<rect x="982.36" y="777.64" width="6.6" height="6.6"/>
<rect x="989.58" y="774.76" width="6.6" height="6.6"/>
<rect x="976.6" y="781.11" width="6.6" height="6.6"/>
<rect x="976.6" y="789.18" width="6.6" height="6.6"/>
<path d="M1024.6 769.27L1028.2 775.75H1021Z"/>
<path d="M1033.26 768.4L1036.86 774.88H1029.66Z"/>
<path d="M1041.91 773.31L1045.51 779.79H1038.31Z"/>
<path d="M1015.95 775.61L1019.55 782.09H1012.35Z"/>
<path d="M1024.6 780.52L1028.2 787H1021Z"/>
<path d="M1033.26 777.92L1036.86 784.4H1029.66Z"/>
<path d="M1015.95 781.96L1019.55 788.44H1012.35Z"/>
<path d="M1028.93 792.92L1032.53 799.4H1025.33Z"/>
<path d="M1024.6 818.88L1028.2 825.36H1021Z"/>
<path d="M1033.26 816.86L1036.86 823.34H1029.66Z"/>
<path d="M1024.6 827.53L1028.2 834.01H1021Z"/>
<path d="M1033.26 828.97L1036.86 835.45H1029.66Z"/>
<path d="M1041.91 826.09L1045.51 832.57H1038.31Z"/>
<path d="M1028.93 838.49L1032.53 844.97H1025.33Z"/>
<path d="M1028.93 845.7L1032.53 852.18H1025.33Z"/>
<path d="M1028.93 852.91L1032.53 859.39H1025.33Z"/>
<path d="M930.9 629.52V617.11H1028.9V629.52M930.9 639.04V634.71H978.1V700.18M981.7 700.18V634.71H1028.9V767.97" fill="none" stroke="#4a4a4a" stroke-width="1.25"/>
<circle cx="975.9" cy="611.91" r="1.3"/>
<circle cx="979.9" cy="611.91" r="1.3"/>
<circle cx="983.9" cy="611.91" r="1.3"/>
<text x="953.4" y="630.71" font-size="7.2" class="r" text-anchor="middle" fill="#444">ns</text>
<circle cx="1002.4" cy="629.51" r="1.3"/>
<circle cx="1006.4" cy="629.51" r="1.3"/>
<text transform="translate(810.31,815.5) rotate(-90)" font-size="18.24" class="b">LB1-IR nuclei</text>
<text transform="translate(828.23,830.66) rotate(-90)" font-size="17.58" class="b">Integrated density</text>
<text transform="translate(833.17,879.35) scale(0.962,1)" font-size="48.55" class="b">L</text>
</svg></body></html>
